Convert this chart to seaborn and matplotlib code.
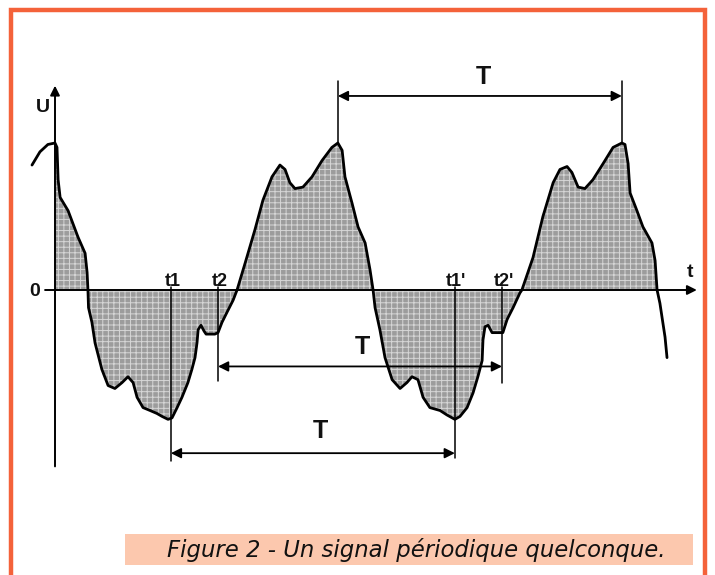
import numpy as np
import matplotlib
matplotlib.use("Agg")
import matplotlib.pyplot as plt
from matplotlib.patches import Rectangle
import seaborn as sns

sns.set_theme(style="white")
plt.rcParams["font.family"] = ["Liberation Sans", "DejaVu Sans"]
plt.rcParams["hatch.linewidth"] = 0.7

# Signal U(t): time in ms (period T = 10 ms), amplitude normalised to the peak
t_ms = np.array([
    -0.81, -0.53, -0.25, 0.00, 0.07, 0.11, 0.18, 0.46, 0.81, 1.06, 1.13, 1.16,
    1.18, 1.30, 1.41, 1.65, 1.87, 2.11, 2.36, 2.57, 2.75, 2.89, 3.10, 3.35,
    3.59, 3.77, 3.98, 4.12, 4.30, 4.47, 4.68, 4.82, 4.93, 5.00, 5.04, 5.14,
    5.25, 5.32, 5.63, 5.74, 5.88, 6.06, 6.27, 6.41, 6.69, 7.04, 7.32, 7.64,
    7.92, 8.10, 8.27, 8.45, 8.73, 9.05, 9.40, 9.75, 9.96, 10.11, 10.21, 10.46,
    10.67, 10.92, 11.09, 11.20, 11.27, 11.44, 11.62, 11.87, 12.15, 12.39, 12.57,
    12.78, 12.96, 13.20, 13.56, 13.80, 14.08, 14.26, 14.51, 14.72, 14.89, 15.04,
    15.07, 15.14, 15.25, 15.39, 15.67, 15.77, 15.92, 16.13, 16.37, 16.44, 16.83,
    17.18, 17.54, 17.78, 18.03, 18.20, 18.42, 18.66, 18.94, 19.30, 19.65, 19.96,
    20.07, 20.18, 20.25, 20.49, 20.70, 21.02, 21.13, 21.20, 21.30, 21.37, 21.48,
    21.55,
])
u_v = np.array([
    0.85, 0.94, 0.99, 1.00, 0.97, 0.75, 0.63, 0.54, 0.36, 0.25, 0.12, 0.00,
    -0.12, -0.22, -0.36, -0.54, -0.65, -0.67, -0.63, -0.59, -0.63, -0.73, -0.80, -0.82,
    -0.84, -0.86, -0.88, -0.87, -0.80, -0.73, -0.63, -0.54, -0.46, -0.36, -0.27, -0.24,
    -0.28, -0.30, -0.30, -0.29, -0.22, -0.15, -0.07, 0.00, 0.18, 0.41, 0.61, 0.77,
    0.85, 0.82, 0.73, 0.69, 0.70, 0.77, 0.88, 0.97, 1.00, 0.95, 0.77, 0.59,
    0.43, 0.32, 0.14, 0.00, -0.12, -0.27, -0.46, -0.61, -0.67, -0.63, -0.59,
    -0.61, -0.73, -0.80, -0.82, -0.85, -0.88, -0.86, -0.80, -0.70, -0.59, -0.48,
    -0.34, -0.25, -0.24, -0.29, -0.29, -0.29, -0.20, -0.12, -0.02, 0.00, 0.22,
    0.50, 0.73, 0.82, 0.84, 0.80, 0.70, 0.69, 0.75, 0.86, 0.97, 1.00,
    0.99, 0.86, 0.66, 0.54, 0.43, 0.32, 0.20, 0.00, -0.09, -0.18, -0.32,
    -0.46,
])

# Shaded part of the signal (from the U axis to the last zero crossing)
shade_start, shade_end = 0.0, 21.20

# Marked instants and the period
marks = ["t1", "t2", "t1'", "t2'"]
mark_t = [4.08, 5.74, 14.08, 15.74]
mark_depth = [-1.16, -0.62, -1.14, -0.63]
period = 10.0
peak_t = [9.96, 19.96]

# Period dimension lines: start instant, level, label position
dims_start = [9.96, 5.74, 4.08]
dims_level = [1.32, -0.52, -1.11]
dims_label_t = [15.07, 10.81, 9.33]
dims_label_u = [1.37, -0.47, -1.04]

caption = "Figure 2 - Un signal périodique quelconque."

W, H = 715, 575
fig = plt.figure(figsize=(W / 100, H / 100), dpi=100)
ax = fig.add_axes([0, 0, 1, 1])
ax.set_xlim(-55 / 28.4, (W - 55) / 28.4)
ax.set_ylim((290 - H) / 147, 290 / 147)
ax.axis("off")

# Shaded area
sel = (t_ms >= shade_start) & (t_ms <= shade_end)
ax.fill_between(t_ms[sel], u_v[sel], 0, facecolor="#9c9c9c", edgecolor="#d6d6d6",
                hatch="+++", linewidth=0, zorder=1)

# Axes with arrows
ax.annotate("", xy=(0, 1.39), xytext=(0, -1.20),
            arrowprops=dict(arrowstyle="-|>", color="black", lw=1.4,
                            mutation_scale=14, shrinkA=0, shrinkB=0), zorder=4)
ax.annotate("", xy=(22.6, 0), xytext=(-0.35, 0),
            arrowprops=dict(arrowstyle="-|>", color="black", lw=1.4,
                            mutation_scale=14, shrinkA=0, shrinkB=0), zorder=4)

# The signal
sns.lineplot(x=t_ms, y=u_v, ax=ax, color="black", linewidth=2.0, sort=False,
             estimator=None, zorder=5, solid_joinstyle="round",
             solid_capstyle="round")

# Instants t1, t2, t1', t2'
for name, tm, dep in zip(marks, mark_t, mark_depth):
    ax.plot([tm, tm], [0.02, dep], color="black", lw=1.1, zorder=4)
    ax.text(tm + 0.05, 0.025, name, ha="center", va="baseline", fontsize=13,
            fontweight="bold", color="#111111")

# Vertical guides at the peaks
for pk in peak_t:
    ax.plot([pk, pk], [1.0, 1.42], color="black", lw=1.1, zorder=4)

# Period arrows
for ts, lev, lt, lu in zip(dims_start, dims_level, dims_label_t, dims_label_u):
    ax.annotate("", xy=(ts + period, lev), xytext=(ts, lev),
                arrowprops=dict(arrowstyle="<|-|>", color="black", lw=1.3,
                                mutation_scale=15, shrinkA=0, shrinkB=0), zorder=4)
    ax.text(lt, lu, "T", ha="center", va="bottom", fontsize=18,
            fontweight="bold", color="#111111")

# Axis labels
ax.text(-0.42, 1.24, "U", ha="center", va="center", fontsize=14,
        fontweight="bold", color="#111111")
ax.text(-0.7, -0.01, "0", ha="center", va="center", fontsize=14,
        fontweight="bold", color="#111111")
ax.text(22.35, 0.12, "t", ha="center", va="center", fontsize=14,
        fontweight="bold", color="#111111")

# Orange frame, open at the bottom
fig.patches.append(Rectangle((11.5 / W, -0.1), (705 - 11.5) / W, 1.1 - 9.5 / H,
                             transform=fig.transFigure, fill=False,
                             edgecolor="#F4623A", linewidth=3.2, zorder=10))

# Caption box
fig.patches.append(Rectangle((125 / W, 1 - 565 / H), (693 - 125) / W, 31 / H,
                             transform=fig.transFigure, facecolor="#FCC8AE",
                             edgecolor="none", zorder=0))
fig.text(167 / W, 1 - 550 / H, caption, ha="left", va="center", fontsize=16.4,
         style="italic", family=["DejaVu Sans"], color="#111111")

fig.savefig("out.png", dpi=100)
